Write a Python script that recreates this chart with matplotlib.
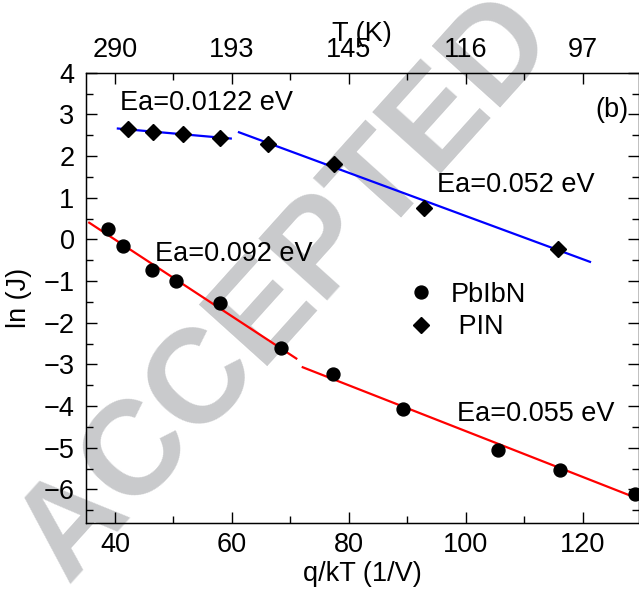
import matplotlib
matplotlib.use('Agg')
import matplotlib.pyplot as plt
from matplotlib.ticker import MultipleLocator

plt.rcParams['font.family'] = ['Liberation Sans', 'DejaVu Sans']

# PbIbN (circles)
x_pbibn = [38.8, 41.4, 46.4, 50.5, 58.0, 68.3, 77.2, 89.3, 105.5, 116.0, 128.9]
y_pbibn = [0.26, -0.16, -0.73, -0.99, -1.53, -2.60, -3.24, -4.07, -5.05, -5.53, -6.11]

# PIN (diamonds)
x_pin = [42.2, 46.5, 51.6, 58.0, 66.2, 77.4, 92.8, 115.8]
y_pin = [2.66, 2.58, 2.52, 2.44, 2.30, 1.82, 0.76, -0.22]

# fit lines (end points)
fit_red1_x = [35.6, 71.0]
fit_red1_y = [0.40, -2.86]
fit_red2_x = [72.1, 131.0]
fit_red2_y = [-3.07, -6.31]
fit_blue1_x = [40.5, 59.8]
fit_blue1_y = [2.66, 2.42]
fit_blue2_x = [61.2, 121.2]
fit_blue2_y = [2.57, -0.54]

# top axis: temperature labels
top_pos = [40, 60, 80, 100, 120]
top_labels = ['290', '193', '145', '116', '97']

fs = 19.5

fig = plt.figure(figsize=(6.39, 5.9), dpi=100)
ax = fig.add_axes([0.1341, 0.1141, 0.8652, 0.7627])

# watermark
ax.text(0.45, 0.51, 'ACCEPTED', transform=fig.transFigure, rotation=48,
        fontsize=96, weight='bold', color='#c9cacc', ha='center', va='center',
        zorder=0, clip_on=False)

ax.plot(fit_red1_x, fit_red1_y, color='#ff0000', lw=1.6, zorder=2)
ax.plot(fit_red2_x, fit_red2_y, color='#ff0000', lw=1.6, zorder=2)
ax.plot(fit_blue1_x, fit_blue1_y, color='#0000ff', lw=1.6, zorder=2)
ax.plot(fit_blue2_x, fit_blue2_y, color='#0000ff', lw=1.6, zorder=2)

ax.plot(x_pbibn, y_pbibn, 'o', color='black', ms=9.3, label='PbIbN', zorder=3)
ax.plot(x_pin, y_pin, 'D', color='black', ms=8.3, label=' PIN', zorder=3)

ax.text(40.9, 3.27, 'Ea=0.0122 eV', fontsize=fs, ha='left', va='center')
ax.text(46.9, -0.34, 'Ea=0.092 eV', fontsize=fs, ha='left', va='center')
ax.text(95.0, 1.30, 'Ea=0.052 eV', fontsize=fs, ha='left', va='center')
ax.text(98.5, -4.19, 'Ea=0.055 eV', fontsize=fs, ha='left', va='center')
ax.text(122.1, 3.10, '(b)', fontsize=fs, ha='left', va='center')

leg = ax.legend(loc='upper left', bbox_to_anchor=(0.562, 0.56), frameon=False,
                fontsize=fs, handlelength=1.0, handletextpad=0.6,
                labelspacing=0.25, borderaxespad=0)

ax.set_xlim(35, 129.5)
ax.set_ylim(-6.8, 4)
ax.xaxis.set_major_locator(MultipleLocator(20))
ax.xaxis.set_minor_locator(MultipleLocator(10))
ax.yaxis.set_major_locator(MultipleLocator(1))
ax.yaxis.set_minor_locator(MultipleLocator(0.5))
ax.tick_params(which='both', direction='in', right=True, top=False,
               labelsize=fs, width=1.0)
ax.tick_params(which='major', length=8)
ax.tick_params(which='minor', length=5)
ax.tick_params(axis='x', pad=7)
ax.tick_params(axis='y', pad=8)
ax.set_xlabel('q/kT (1/V)', fontsize=fs, labelpad=2)
ax.set_ylabel('ln (J)', fontsize=fs, labelpad=8)
for s in ax.spines.values():
    s.set_linewidth(1.0)

ax2 = ax.twiny()
ax2.set_xlim(ax.get_xlim())
ax2.set_xticks(top_pos)
ax2.set_xticklabels(top_labels)
ax2.xaxis.set_minor_locator(MultipleLocator(10))
ax2.tick_params(which='both', direction='in', labelsize=fs, width=1.0, pad=7)
ax2.tick_params(which='major', length=8)
ax2.tick_params(which='minor', length=5)
ax2.set_xlabel('T (K)', fontsize=fs, labelpad=-3)

fig.savefig('out.png', dpi=100)
